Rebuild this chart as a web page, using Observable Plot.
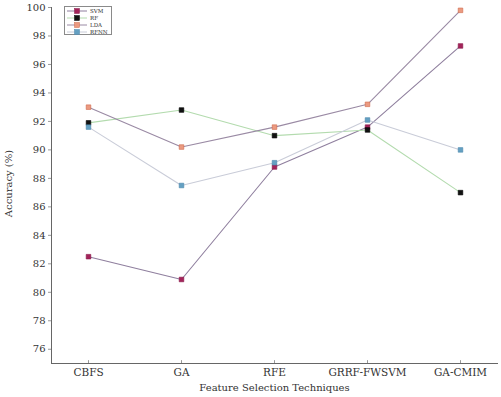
<!DOCTYPE html>
<html>
<head>
<meta charset="utf-8">
<script src="https://cdn.jsdelivr.net/npm/d3@7"></script>
<script src="https://cdn.jsdelivr.net/npm/@observablehq/plot@0.6"></script>
<style>
  html, body { margin: 0; padding: 0; background: #fff; }
  #wrap { position: relative; width: 501px; height: 397px; font-family: "DejaVu Serif", serif; }
  #legend { position: absolute; left: 64px; top: 6px; width: 48px; height: 29px; border: 1px solid #8a8a8a; background: #fff; box-sizing: border-box; padding-top: 1px; }
  .row { display: flex; align-items: center; height: 6.8px; }
  .row span { font-size: 5.5px; color: #333; margin-left: 3px; line-height: 6px; }
</style>
</head>
<body>
<div id="wrap"><div id="legend"></div></div>
<script>
const categories = ["CBFS", "GA", "RFE", "GRRF-FWSVM", "GA-CMIM"];
const seriesNames = ["SVM", "RF", "LDA", "RFNN"];
const svm  = [82.5, 80.9, 88.8, 91.6, 97.3];
const rf   = [91.9, 92.8, 91.0, 91.4, 87.0];
const lda  = [93.0, 90.2, 91.6, 93.2, 99.8];
const rfnn = [91.6, 87.5, 89.1, 92.1, 90.0];
const yTicks = [76, 78, 80, 82, 84, 86, 88, 90, 92, 94, 96, 98, 100];

const lineColors   = {SVM: "#8f7f9e", RF: "#b3dbae", LDA: "#9a8aa4", RFNN: "#c9ccd8"};
const markerFill   = {SVM: "#a3235a", RF: "#111111", LDA: "#eb9a80", RFNN: "#64a0c2"};
const markerStroke = {SVM: "#8a1a4a", RF: "#000000", LDA: "#d06a4c", RFNN: "#4c88ad"};

const values = {SVM: svm, RF: rf, LDA: lda, RFNN: rfnn};
const data = seriesNames.flatMap(s => categories.map((c, i) => ({series: s, cat: c, value: values[s][i]})));

const plot = Plot.plot({
  width: 501,
  height: 397,
  marginLeft: 51,
  marginRight: 4,
  marginTop: 7,
  marginBottom: 34,
  style: {fontFamily: "DejaVu Serif, serif", fontSize: "10px", color: "#333", background: "#fff"},
  x: {type: "point", domain: categories, padding: 0.373, label: null},
  y: {domain: [75, 100], label: null},
  marks: [
    Plot.axisY({ticks: yTicks, tickSize: 3, tickPadding: 3, stroke: "#999", fontSize: 10, label: null}),
    Plot.axisX({tickSize: 0, tickPadding: 5, fontSize: 10.5, label: null}),
    Plot.ruleX(categories, {x: d => d, y1: 75, y2: 75.2, stroke: "#999"}),
    Plot.frame({anchor: "left", stroke: "#666"}),
    Plot.frame({anchor: "bottom", stroke: "#666"}),
    Plot.line(data, {x: "cat", y: "value", z: "series", stroke: d => lineColors[d.series], strokeWidth: 1.1}),
    Plot.dot(data, {x: "cat", y: "value", symbol: "square", r: 2.6, fill: d => markerFill[d.series], stroke: d => markerStroke[d.series], strokeWidth: 0.6}),
    Plot.text(["Feature Selection Techniques"], {frameAnchor: "bottom", dy: 27, fontSize: 10, fill: "#333"}),
    Plot.text(["Accuracy (%)"], {frameAnchor: "left", textAnchor: "middle", dx: -43, dy: -2, rotate: -90, fontSize: 10, fill: "#333"})
  ]
});
document.getElementById("wrap").insertBefore(plot, document.getElementById("legend"));

const legend = document.getElementById("legend");
for (const s of seriesNames) {
  const row = document.createElement("div");
  row.className = "row";
  row.innerHTML = `<svg width="20" height="6" style="margin-left:2px"><line x1="0" x2="20" y1="3" y2="3" stroke="${lineColors[s]}" stroke-width="1"/><rect x="7.5" y="0.5" width="5" height="5" fill="${markerFill[s]}" stroke="${markerStroke[s]}" stroke-width="0.5"/></svg><span>${s}</span>`;
  legend.appendChild(row);
}
</script>
</body>
</html>
